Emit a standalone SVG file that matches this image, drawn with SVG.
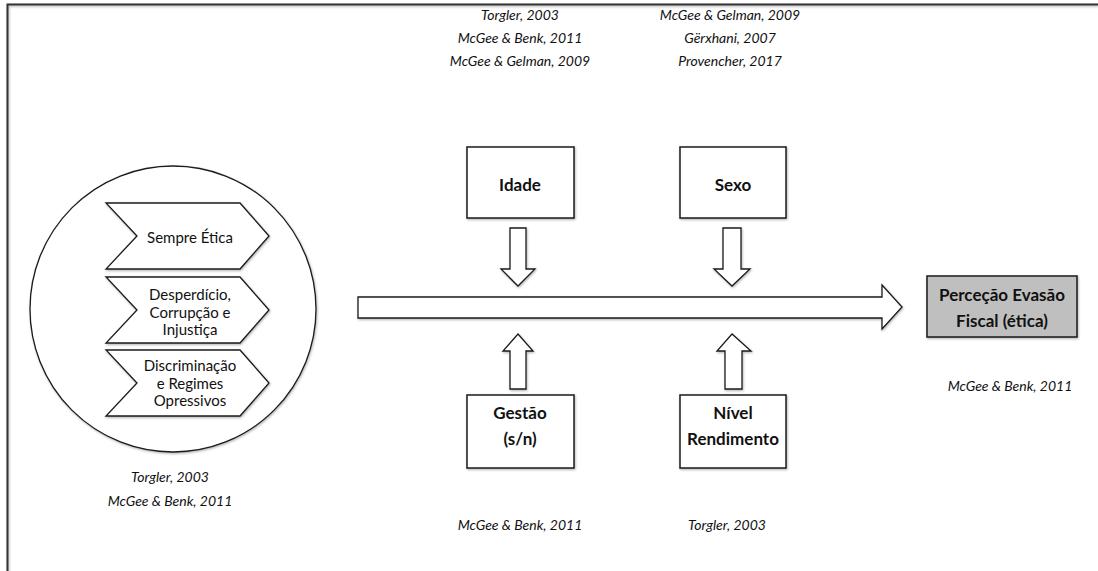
<svg xmlns="http://www.w3.org/2000/svg" width="1098" height="571" viewBox="0 0 1098 571">
<defs>
<filter id="shadow" x="-10%" y="-10%" width="120%" height="120%">
<feDropShadow dx="0.8" dy="1.2" stdDeviation="1" flood-color="#000" flood-opacity="0.3"/>
</filter>
</defs>
<style>
.sh{fill:#fff;stroke:#1a1a1a;stroke-width:1.3;filter:url(#shadow)}
.box{fill:#fff;stroke:#1a1a1a;stroke-width:1.5;filter:url(#shadow)}
.cite{font-family:Lato,"Open Sans",sans-serif;font-style:italic;font-size:14px;fill:#111;text-anchor:middle}
.lbl{font-family:Lato,"Open Sans",sans-serif;font-size:15px;fill:#111;text-anchor:middle}
.bold{font-family:Lato,"Open Sans",sans-serif;font-weight:bold;font-size:17px;fill:#111;text-anchor:middle}
</style>
<rect width="1098" height="571" fill="#fff"/>
<g id="frame">
<path d="M7.5 571 V4.5 H1098" fill="none" stroke="#333" stroke-width="2" filter="url(#shadow)"/>
</g>
<g id="circle-group">
<circle cx="173" cy="309" r="143" class="sh"/>
<polygon class="sh" points="106,203 240,203 269,236 240,269 106,269 137,236"/>
<text class="lbl" x="190" y="243">Sempre Ética</text>
<polygon class="sh" points="106,277 240,277 269,310 240,343 106,343 137,310"/>
<text class="lbl" x="190" y="300">Desperdício,</text>
<text class="lbl" x="190" y="318">Corrupção e</text>
<text class="lbl" x="190" y="335">Injustiça</text>
<polygon class="sh" points="106,350 240,350 269,383 240,416 106,416 137,383"/>
<text class="lbl" x="190" y="371">Discriminação</text>
<text class="lbl" x="190" y="389">e Regimes</text>
<text class="lbl" x="190" y="406">Opressivos</text>
<text class="cite" x="170" y="482">Torgler, 2003</text>
<text class="cite" x="170" y="506">McGee &amp; Benk, 2011</text>
</g>
<g id="connectors">
<polygon class="sh" points="358,297 882,297 882,285 902,307 882,329 882,318 358,318"/>
<polygon class="sh" points="510,228 526,228 526,269 535,269 518,286 501,269 510,269"/>
<polygon class="sh" points="723,228 741,228 741,269 750,269 732,286 714,269 723,269"/>
<polygon class="sh" points="510,389 526,389 526,351 533,351 518,334 503,351 510,351"/>
<polygon class="sh" points="725,389 742,389 742,351 751,351 732,334 717,351 725,351"/>
</g>
<g id="idade">
<rect class="box" x="467" y="147" width="107" height="71"/>
<text class="bold" x="520" y="191">Idade</text>
<text class="cite" x="520" y="20">Torgler, 2003</text>
<text class="cite" x="520" y="43">McGee &amp; Benk, 2011</text>
<text class="cite" x="520" y="66">McGee &amp; Gelman, 2009</text>
</g>
<g id="sexo">
<rect class="box" x="680" y="147" width="106" height="71"/>
<text class="bold" x="733" y="191">Sexo</text>
<text class="cite" x="730" y="20">McGee &amp; Gelman, 2009</text>
<text class="cite" x="730" y="43">Gërxhani, 2007</text>
<text class="cite" x="730" y="66">Provencher, 2017</text>
</g>
<g id="gestao">
<rect class="box" x="467" y="395" width="107" height="73"/>
<text class="bold" x="520" y="419">Gestão</text>
<text class="bold" x="520" y="445">(s/n)</text>
<text class="cite" x="520" y="530">McGee &amp; Benk, 2011</text>
</g>
<g id="nivel">
<rect class="box" x="680" y="395" width="106" height="73"/>
<text class="bold" x="733" y="419">Nível</text>
<text class="bold" x="733" y="445">Rendimento</text>
<text class="cite" x="727" y="530">Torgler, 2003</text>
</g>
<g id="percecao">
<rect x="927" y="276" width="150" height="61" fill="#bfbfbf" stroke="#1a1a1a" stroke-width="1.5" filter="url(#shadow)"/>
<text class="bold" x="1002" y="301" font-size="18">Perceção Evasão</text>
<text class="bold" x="1002" y="327" font-size="18">Fiscal (ética)</text>
<text class="cite" x="1010" y="391">McGee &amp; Benk, 2011</text>
</g>
</svg>
